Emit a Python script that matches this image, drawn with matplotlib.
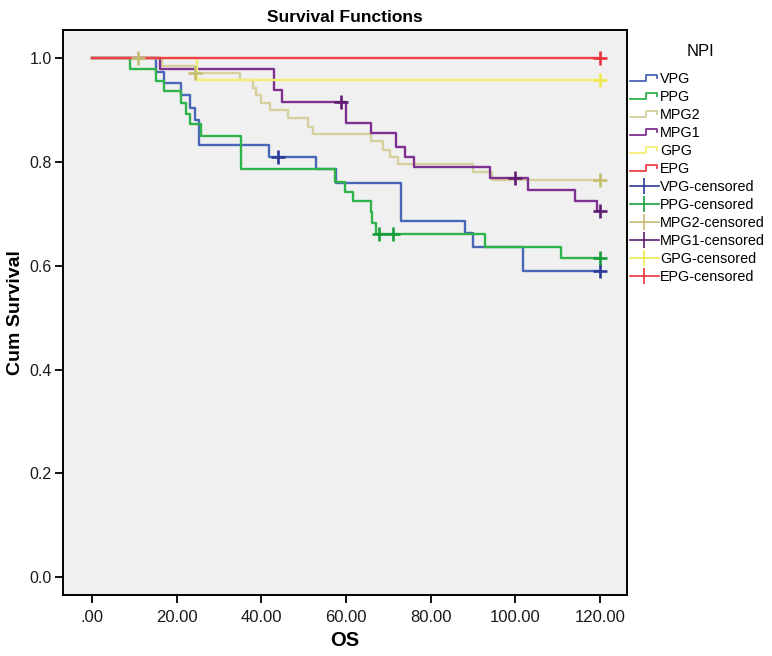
import numpy as np
import matplotlib
matplotlib.use('Agg')
import matplotlib.pyplot as plt
from matplotlib.lines import Line2D
from matplotlib.legend_handler import HandlerBase
from matplotlib import font_manager

# Kaplan-Meier steps: event times, survival after each step, censor times
vpg_t = [15.0, 16.9, 20.9, 23.0, 24.2, 25.2, 41.9, 53.0, 57.7, 73.0, 88.1, 90.0, 101.8]
vpg_s = [0.974, 0.952, 0.929, 0.904, 0.881, 0.833, 0.809, 0.787, 0.760, 0.687, 0.664, 0.637, 0.590]
vpg_c = [43.9, 120.0]

ppg_t = [8.9, 15.0, 16.9, 20.9, 22.1, 23.0, 25.8, 35.1, 57.3, 59.7, 61.7, 65.8, 66.2, 67.0, 92.8, 110.9]
ppg_s = [0.978, 0.955, 0.936, 0.913, 0.893, 0.873, 0.850, 0.786, 0.762, 0.743, 0.724, 0.704, 0.682,
         0.661, 0.637, 0.615]
ppg_c = [67.8, 71.0, 120.0]

mpg2_t = [16.4, 24.2, 34.9, 37.9, 38.7, 40.0, 42.0, 46.3, 51.0, 52.1, 66.0, 68.7, 70.3, 72.3, 90.0, 94.4]
mpg2_s = [0.985, 0.971, 0.957, 0.942, 0.929, 0.914, 0.899, 0.884, 0.868, 0.854, 0.841, 0.823, 0.809,
          0.796, 0.781, 0.766]
mpg2_c = [10.8, 24.4, 120.0]

mpg1_t = [16.0, 43.0, 44.8, 59.9, 66.0, 71.9, 73.9, 76.0, 94.0, 103.0, 114.0, 119.2]
mpg1_s = [0.979, 0.938, 0.916, 0.875, 0.855, 0.829, 0.809, 0.790, 0.769, 0.746, 0.725, 0.705]
mpg1_c = [58.9, 99.9, 120.0]

gpg_t = [24.8]
gpg_s = [0.958]
gpg_c = [120.0]

epg_t = []
epg_s = []
epg_c = [120.0]

names = ['VPG', 'PPG', 'MPG2', 'MPG1', 'GPG', 'EPG']
line_colors = ['#4a66b8', '#2fb34a', '#d5d09c', '#7e3190', '#f4ef72', '#ee4048']
cens_colors = ['#2b3a99', '#179e3a', '#c4be72', '#5e1c72', '#eee84c', '#e8333a']

x_ticks = [0, 20, 40, 60, 80, 100, 120]
y_ticks = [0.0, 0.2, 0.4, 0.6, 0.8, 1.0]

groups = [(vpg_t, vpg_s, vpg_c), (ppg_t, ppg_s, ppg_c), (mpg2_t, mpg2_s, mpg2_c),
          (mpg1_t, mpg1_s, mpg1_c), (gpg_t, gpg_s, gpg_c), (epg_t, epg_s, epg_c)]

installed = {f.name for f in font_manager.fontManager.ttflist}
narrow = 'Liberation Sans Narrow' if 'Liberation Sans Narrow' in installed else 'Liberation Sans'
plt.rcParams['font.family'] = ['Liberation Sans', 'DejaVu Sans']


def surv_at(times, vals, t):
    s = 1.0
    for ti, vi in zip(times, vals):
        if ti <= t:
            s = vi
    return s


class StepHandler(HandlerBase):
    def create_artists(self, legend, orig_handle, xdescent, ydescent, width, height, fontsize, trans):
        y0 = -ydescent + height * 0.2
        y1 = -ydescent + height * 0.8
        xs = [-xdescent, -xdescent + width * 0.55, -xdescent + width * 0.55, -xdescent + width * 0.92,
              -xdescent + width * 0.92]
        ys = [y0, y0, y1, y1, (y0 + y1) / 2]
        ln = Line2D(xs, ys, color=orig_handle.get_color(), lw=1.3, transform=trans)
        return [ln]


fig = plt.figure(figsize=(7.72, 6.56), dpi=100)
ax = fig.add_axes([63 / 772, 1 - 595 / 656, (627 - 63) / 772, (595 - 30) / 656])
ax.set_facecolor('#f0f0f0')

step_handles = []
for (t, s, c), col in zip(groups, line_colors):
    end = max(c)
    tt = [0.0] + list(t) + [end]
    ss = [1.0] + list(s) + [s[-1] if s else 1.0]
    ln, = ax.step(tt, ss, where='post', color=col, lw=1.7, zorder=2)
    step_handles.append(ln)

cens_handles = []
for (t, s, c), col in zip(groups, cens_colors):
    cv = [surv_at(t, s, ci) for ci in c]
    ax.plot(c, cv, linestyle='none', marker='+', markersize=10, mew=1.9, color=col, zorder=3)
    cens_handles.append(Line2D([], [], color=col, lw=1.2, marker='|', markersize=11, mew=1.2))

ax.set_xlim(-6.9, 126.4)
ax.set_ylim(-0.034, 1.054)

ax.set_xticks(x_ticks)
ax.set_xticklabels(['.00' if v == 0 else f'{v:.2f}' for v in x_ticks], fontfamily=narrow, fontsize=12)
ax.set_yticks(y_ticks)
ax.set_yticklabels([f'{v:.1f}' for v in y_ticks], fontsize=11.5)
ax.tick_params(axis='both', direction='out', length=6, width=1.3, color='black', labelcolor='#1a1a1a')
ax.tick_params(axis='x', pad=5)
ax.tick_params(axis='y', pad=2)

for sp in ax.spines.values():
    sp.set_color('black')
    sp.set_linewidth(1.4)

ax.set_xlabel('OS', fontsize=14.5, fontweight='bold', labelpad=4)
ax.set_ylabel('Cum Survival', fontsize=14, fontweight='bold', labelpad=4)
ax.set_title('Survival Functions', fontsize=12.5, fontweight='bold', pad=6)

labels = names + [n + '-censored' for n in names]
handler_map = {h: StepHandler() for h in step_handles}
fig.text(700 / 772, 1 - 51 / 656, 'NPI', ha='center', va='center', fontsize=12)
leg = fig.legend(step_handles + cens_handles, labels, loc='upper left',
                 bbox_to_anchor=(630 / 772, 1 - 72 / 656), frameon=False, fontsize=10.4,
                 handlelength=2.0, handletextpad=0.1,
                 labelspacing=0.28, borderpad=0, borderaxespad=0, handler_map=handler_map)

fig.savefig('out.png', dpi=100, facecolor='white')
